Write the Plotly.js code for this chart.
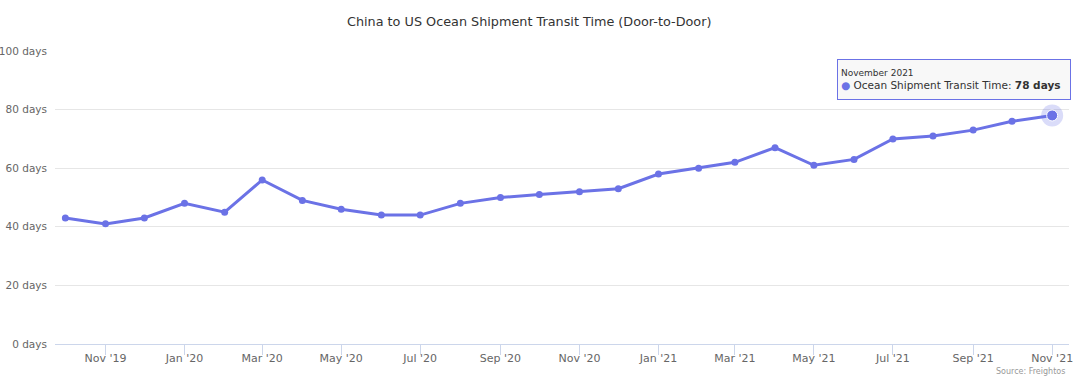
<!DOCTYPE html>
<html>
<head>
<meta charset="utf-8">
<script src="https://cdn.plot.ly/plotly-3.0.1.min.js"></script>
<style>
html,body{margin:0;padding:0;background:#fff;}
#chart{width:1080px;height:385px;}
</style>
</head>
<body>
<div id="chart"></div>
<script>
// Monthly data, Oct 2019 – Nov 2021
const months = [
  '2019-10-01','2019-11-01','2019-12-01',
  '2020-01-01','2020-02-01','2020-03-01','2020-04-01','2020-05-01','2020-06-01',
  '2020-07-01','2020-08-01','2020-09-01','2020-10-01','2020-11-01','2020-12-01',
  '2021-01-01','2021-02-01','2021-03-01','2021-04-01','2021-05-01','2021-06-01',
  '2021-07-01','2021-08-01','2021-09-01','2021-10-01','2021-11-01'
];
const transitDays = [
  43, 41, 43,
  48, 45, 56, 49, 46, 44,
  44, 48, 50, 51, 52, 53,
  58, 60, 62, 67, 61, 63,
  70, 71, 73, 76, 78
];
const seriesName = 'Ocean Shipment Transit Time';
const chartTitle = 'China to US Ocean Shipment Transit Time (Door-to-Door)';
const sourceText = 'Source: Freightos';
const tooltipHeader = 'November 2021';

const color = '#6b72e6';
const font = 'DejaVu Sans, Lucida Grande, sans-serif';
const lastX = months[months.length - 1];
const lastY = transitDays[transitDays.length - 1];

const traces = [
  {
    x: months, y: transitDays, type: 'scatter', mode: 'lines+markers',
    name: seriesName,
    line: {color: color, width: 3},
    marker: {color: color, size: 7},
    hoverinfo: 'skip'
  },
  {
    x: [lastX], y: [lastY], type: 'scatter', mode: 'markers',
    marker: {color: 'rgba(107,114,230,0.25)', size: 22},
    hoverinfo: 'skip', showlegend: false
  },
  {
    x: [lastX], y: [lastY], type: 'scatter', mode: 'markers',
    marker: {color: color, size: 11, line: {color: '#ffffff', width: 1}},
    hoverinfo: 'skip', showlegend: false
  }
];

const layout = {
  width: 1080, height: 385,
  margin: {l: 55, r: 11, t: 51, b: 41},
  paper_bgcolor: '#ffffff', plot_bgcolor: '#ffffff',
  showlegend: false,
  font: {family: font, color: '#666666', size: 11},
  title: {
    text: chartTitle,
    font: {family: font, size: 12.8, color: '#333333'},
    x: 0.49, xanchor: 'center', y: 0.945, yanchor: 'middle'
  },
  xaxis: {
    type: 'date',
    range: ['2019-09-23', '2021-11-14'],
    tick0: '2019-11-01', dtick: 'M2',
    tickformat: "%b '%y",
    showgrid: false,
    showline: true, linecolor: '#ccd6eb', linewidth: 1,
    ticks: 'outside', ticklen: 10, tickcolor: '#ccd6eb', tickwidth: 1,
    tickfont: {family: font, size: 11, color: '#666666'},
    ticklabelstandoff: -6,
    zeroline: false, fixedrange: true
  },
  yaxis: {
    range: [0, 100], dtick: 20, tick0: 0,
    ticksuffix: ' days',
    showgrid: true, gridcolor: '#e6e6e6', gridwidth: 1,
    zeroline: false, showline: false,
    tickfont: {family: font, size: 10.5, color: '#666666'},
    ticklabelstandoff: 7,
    fixedrange: true
  },
  annotations: [
    {
      x: lastX, y: lastY, xref: 'x', yref: 'y',
      xanchor: 'right', yanchor: 'bottom', xshift: 19, yshift: 15,
      showarrow: false, align: 'left',
      width: 226, height: 33,
      bgcolor: 'rgba(247,247,247,0.92)', bordercolor: color, borderwidth: 1, borderpad: 3,
      text: '<span style="font-size:9px;color:#333333">' + tooltipHeader + '</span><br>' +
            '<span style="color:' + color + '">●</span> <span style="color:#333333">' + seriesName +
            ': <b>' + lastY + ' days</b></span>',
      font: {family: font, size: 10.5, color: '#333333'}
    },
    {
      xref: 'paper', yref: 'paper', x: 1, y: 0, xanchor: 'right', yanchor: 'top',
      yshift: -21, xshift: -2,
      showarrow: false, text: sourceText,
      font: {family: font, size: 8, color: '#999999'}
    }
  ]
};

Plotly.newPlot('chart', traces, layout, {displayModeBar: false, staticPlot: true});
</script>
</body>
</html>
